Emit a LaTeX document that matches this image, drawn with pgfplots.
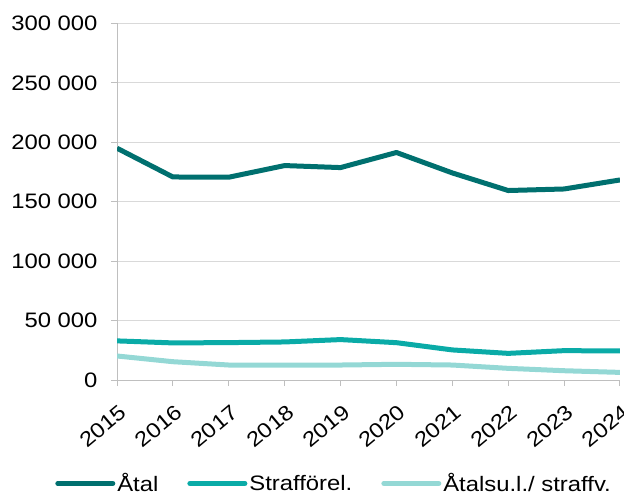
\documentclass[border=0pt]{standalone}
\usepackage{fontspec}
\setmainfont[FakeStretch=1.14]{Liberation Sans}
\usepackage{pgfplots}
\pgfplotsset{compat=1.18}
\definecolor{cA}{HTML}{00706F}
\definecolor{cB}{HTML}{0AABA7}
\definecolor{cC}{HTML}{94D8D5}
\definecolor{gridc}{HTML}{D9D9D9}
\definecolor{axc}{HTML}{BFBFBF}
\begin{document}
\begin{tikzpicture}
\begin{axis}[
  at={(117bp,115bp)}, anchor=south west,
  scale only axis, width=503bp, height=356.6bp,
  xmin=2015, xmax=2024, ymin=0, ymax=300000,
  scaled y ticks=false,
  xtick={2015,...,2024},
  xticklabels={2015,2016,2017,2018,2019,2020,2021,2022,2023,2024},
  ytick={0,50000,100000,150000,200000,250000,300000},
  yticklabels={0,50 000,100 000,150 000,200 000,250 000,300 000},
  ymajorgrids, grid style={gridc, line width=0.8bp},
  axis x line*=bottom, axis y line*=left,
  axis line style={axc, line width=1bp, -},
  tick style={axc, line width=1bp},
  tick align=outside, major tick length=6bp,
  ticklabel style={font=\fontsize{21}{24}\selectfont, text=black},
  xticklabel style={rotate=40, anchor=north east, inner sep=0pt, yshift=-14bp, xshift=-10bp},
  yticklabel style={xshift=-10bp},
  legend columns=3,
  legend style={draw=none, fill=none, at={(axis description cs:-0.129,-0.29)}, anchor=west,
    font=\fontsize{21}{24}\selectfont, /tikz/every even column/.append style={column sep=27bp}},
  legend image code/.code={\draw[#1, line cap=round] (0bp,0bp) -- (55bp,0bp);},
  every axis plot/.append style={line join=round, no marks},
]
\addplot[cA, line width=5bp] coordinates {
(2015,195000)(2016,170800)(2017,170600)(2018,180400)(2019,178700)
(2020,191400)(2021,174200)(2022,159400)(2023,160700)(2024,168300)};
\addlegendentry{Åtal}
\addplot[cB, line width=5bp] coordinates {
(2015,32900)(2016,31200)(2017,31450)(2018,32000)(2019,34000)
(2020,31400)(2021,25300)(2022,22400)(2023,24700)(2024,24400)};
\addlegendentry{Strafförel.}
\addplot[cC, line width=5bp] coordinates {
(2015,20200)(2016,15400)(2017,12600)(2018,12600)(2019,12600)
(2020,13200)(2021,12600)(2022,9800)(2023,7800)(2024,6400)};
\addlegendentry{Åtalsu.l./ straffv.}
\end{axis}
\pgfresetboundingbox
\useasboundingbox (0,0) rectangle (624bp,495bp);
\end{tikzpicture}
\end{document}
